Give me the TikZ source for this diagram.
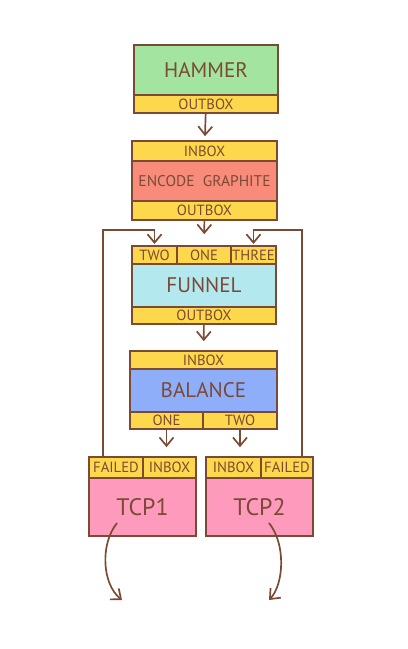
\documentclass[tikz,border=0pt]{standalone}
\usepackage{fontspec}
\setmainfont{PT Sans}
\usetikzlibrary{arrows.meta}
\definecolor{ink}{HTML}{7A4A35}
\definecolor{portfill}{HTML}{FED84C}
\definecolor{hammerfill}{HTML}{A3E4A0}
\definecolor{encodefill}{HTML}{F98B7A}
\definecolor{funnelfill}{HTML}{B2E8EE}
\definecolor{balancefill}{HTML}{8EAEFA}
\definecolor{tcpfill}{HTML}{FE9ABB}
\begin{document}
\begin{tikzpicture}[
        part/.style={draw=ink, line width=1.2pt, text=ink, inner sep=0pt},
        port/.style={part, fill=portfill, font=\fontsize{10.5}{10.5}\selectfont},
        main/.style={part, font=\fontsize{15}{15}\selectfont},
        arr/.style={draw=ink, line width=1.2pt, -{Straight Barb[length=6pt,width=10pt]}}
    ]
        \useasboundingbox (0,0) rectangle (10.2,-16.225);

        % hammer
        \node[main, fill=hammerfill, minimum width=3.6cm, minimum height=1.25cm] (ham) at (5.15,-1.75) {HAMMER};
        \node[port, minimum width=3.6cm, minimum height=0.45cm] (ham-out) at (5.15,-2.6) {OUTBOX};

        % encode graphite
        \node[port, minimum width=3.625cm, minimum height=0.5cm] (enc-in) at (5.1125,-3.775) {INBOX};
        \node[main, fill=encodefill, minimum width=3.625cm, minimum height=1cm, font=\fontsize{11}{11}\selectfont] (enc) at (5.1125,-4.525) {ENCODE\ \ GRAPHITE};
        \node[port, minimum width=3.625cm, minimum height=0.475cm] (enc-out) at (5.1125,-5.2625) {OUTBOX};

        % funnel
        \node[port, minimum width=1.125cm, minimum height=0.45cm] (fun-two) at (3.8625,-6.375) {TWO};
        \node[port, minimum width=1.35cm, minimum height=0.45cm] (fun-one) at (5.1,-6.375) {ONE};
        \node[port, minimum width=1.125cm, minimum height=0.45cm] (fun-three) at (6.3375,-6.375) {THREE};
        \node[main, fill=funnelfill, minimum width=3.6cm, minimum height=1.075cm] (fun) at (5.1,-7.1375) {FUNNEL};
        \node[port, minimum width=3.6cm, minimum height=0.425cm] (fun-out) at (5.1,-7.8875) {OUTBOX};

        % balance
        \node[port, minimum width=3.675cm, minimum height=0.45cm] (bal-in) at (5.0875,-9.0) {INBOX};
        \node[main, fill=balancefill, minimum width=3.675cm, minimum height=1.075cm] (bal) at (5.0875,-9.7625) {BALANCE};
        \node[port, minimum width=1.825cm, minimum height=0.425cm] (bal-one) at (4.1625,-10.5125) {ONE};
        \node[port, minimum width=1.85cm, minimum height=0.425cm] (bal-two) at (6.0,-10.5125) {TWO};

        % tcp1 and tcp2
        \node[port, minimum width=1.35cm, minimum height=0.525cm] (tcp1-fail) at (2.9,-11.6875) {FAILED};
        \node[port, minimum width=1.325cm, minimum height=0.525cm] (tcp1-in) at (4.2375,-11.6875) {INBOX};
        \node[main, fill=tcpfill, minimum width=2.675cm, minimum height=1.45cm, font=\fontsize{17}{17}\selectfont] (tcp1) at (3.5625,-12.675) {TCP1};
        \node[port, minimum width=1.375cm, minimum height=0.525cm] (tcp2-in) at (5.8375,-11.6875) {INBOX};
        \node[port, minimum width=1.3cm, minimum height=0.525cm] (tcp2-fail) at (7.175,-11.6875) {FAILED};
        \node[main, fill=tcpfill, minimum width=2.675cm, minimum height=1.45cm, font=\fontsize{17}{17}\selectfont] (tcp2) at (6.4875,-12.675) {TCP2};

        \coordinate (loopL) at (2.575,-5.75);
        \coordinate (loopR) at (7.55,-5.75);
        \coordinate (out1) at (2.925,-13.075);
        \coordinate (end1) at (3.05,-15.0);
        \coordinate (out2) at (6.725,-13.075);
        \coordinate (end2) at (6.725,-15.0);

        % connectors
        \draw[arr, shorten >=0.1cm] (ham-out) -- (enc-in);
        \draw[arr, shorten >=0.275cm] (enc-out) -- (fun-one);
        \draw[arr, shorten >=0.225cm] (fun-out) -- (bal-in);
        \draw[arr, shorten >=0.225cm] (bal-one) -- (bal-one |- tcp1-in.north);
        \draw[arr, shorten >=0.225cm] (bal-two) -- (bal-two |- tcp2-in.north);
        \draw[arr, shorten >=0.03cm] (tcp1-fail.north -| loopL) -- (loopL) -| (fun-two);
        \draw[arr, shorten >=0.03cm] (tcp2-fail.north -| loopR) -- (loopR) -| (fun-three);
        \draw[arr] (out1) .. controls (2.5,-13.6) and (2.55,-14.6) .. (end1);
        \draw[arr] (out2) .. controls (7.15,-13.6) and (7.1,-14.6) .. (end2);
    \end{tikzpicture}
\end{document}
